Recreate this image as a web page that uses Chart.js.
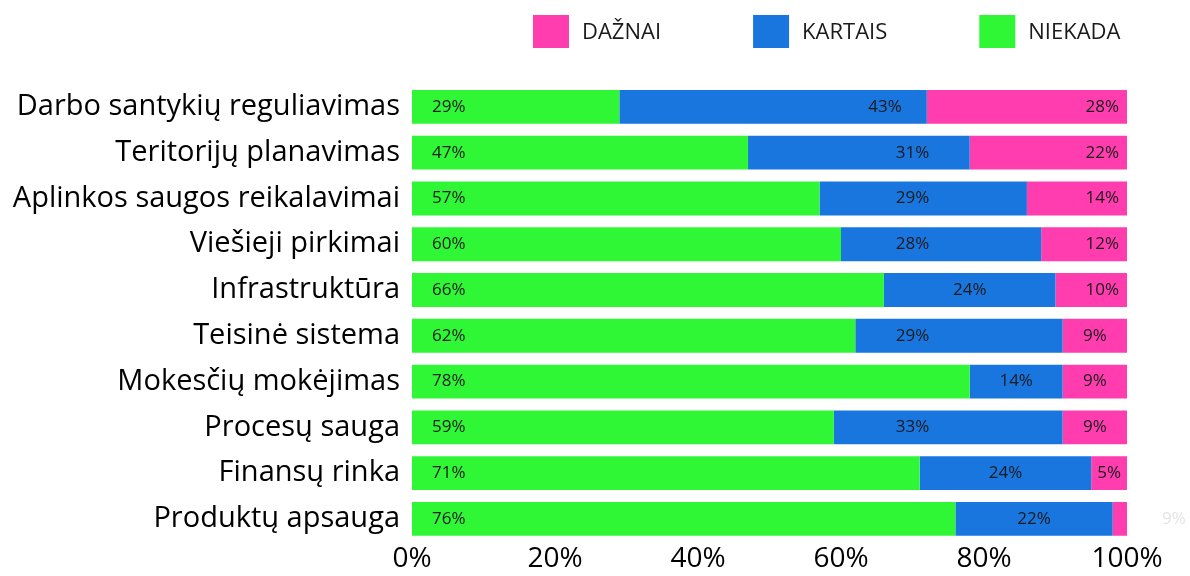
<!DOCTYPE html>
<html>
<head>
<meta charset="utf-8">
<script src="https://cdn.jsdelivr.net/npm/chart.js@4.4.1/dist/chart.umd.min.js"></script>
<style>
  html, body { margin: 0; padding: 0; background: #fff; }
  #wrap { width: 1190px; height: 576px; }
</style>
</head>
<body>
<div id="wrap"><canvas id="chart"></canvas></div>
<script>
const categories = [
    "Darbo santykių reguliavimas",
    "Teritorijų planavimas",
    "Aplinkos saugos reikalavimai",
    "Viešieji pirkimai",
    "Infrastruktūra",
    "Teisinė sistema",
    "Mokesčių mokėjimas",
    "Procesų sauga",
    "Finansų rinka",
    "Produktų apsauga",
];
// bar lengths as drawn
const niekada = [29, 47, 57, 60, 66, 62, 78, 59, 71, 76];
const kartais = [43, 31, 29, 28, 24, 29, 13, 32, 24, 22];
const daznai = [28, 22, 14, 12, 10, 9, 9, 9, 5, 2];
// numbers printed on the bars (the last pink one is a stray faded "9%")
const niekadaText = ["29%", "47%", "57%", "60%", "66%", "62%", "78%", "59%", "71%", "76%"];
const kartaisText = ["43%", "31%", "29%", "28%", "24%", "29%", "14%", "33%", "24%", "22%"];
const daznaiText = ["28%", "22%", "14%", "12%", "10%", "9%", "9%", "9%", "5%", "9%"];
const xTicks = [0, 20, 40, 60, 80, 100];

const FONT = "'Open Sans', sans-serif";
const INK = "#1a1a1a";

// draws the numbers inside the bars
const barLabels = {
    id: "barLabels",
    afterDatasetsDraw(chart) {
        const ctx = chart.ctx;
        ctx.save();
        ctx.font = "17px " + FONT;
        ctx.textBaseline = "middle";
        chart.data.datasets.forEach((ds, di) => {
            const meta = chart.getDatasetMeta(di);
            meta.data.forEach((bar, i) => {
                const start = Math.min(bar.base, bar.x);
                const end = Math.min(Math.max(bar.base, bar.x), chart.chartArea.right);
                const w = end - start;
                const text = ds.texts[i];
                const tw = ctx.measureText(text).width;
                ctx.fillStyle = INK;
                if (ds.key === "n") {
                    ctx.textAlign = "left";
                    ctx.fillText(text, start + 20, bar.y);
                } else if (ds.key === "k") {
                    const anchor = chart.scales.x.getPixelForValue(70);
                    let cx = (start + end) / 2;
                    if (anchor - tw / 2 > start + 20) cx = Math.min(anchor, end - 25 - tw / 2);
                    ctx.textAlign = "center";
                    ctx.fillText(text, cx, bar.y);
                } else {
                    if (w < tw + 6) {
                        ctx.fillStyle = "#e4e4e4";
                        ctx.textAlign = "left";
                        ctx.fillText(text, end + 35, bar.y);
                    } else if (w < 70) {
                        ctx.textAlign = "center";
                        ctx.fillText(text, (start + end) / 2, bar.y);
                    } else {
                        ctx.textAlign = "right";
                        ctx.fillText(text, end - 8, bar.y);
                    }
                }
            });
        });
        ctx.restore();
    },
};

// legend at the top, order DAŽNAI, KARTAIS, NIEKADA
const topLegend = {
    id: "topLegend",
    afterDraw(chart) {
        const ctx = chart.ctx;
        ctx.save();
        ctx.font = "22px " + FONT;
        ctx.textBaseline = "middle";
        ctx.textAlign = "left";
        let x = 533;
        const y = 15, boxW = 36, boxH = 33, gap = 13, spacing = 92;
        chart.data.datasets.slice().reverse().forEach((ds) => {
            ctx.fillStyle = ds.backgroundColor;
            ctx.fillRect(x, y, boxW, boxH);
            ctx.fillStyle = INK;
            ctx.fillText(ds.label, x + boxW + gap, y + boxH / 2 + 1);
            x += boxW + gap + ctx.measureText(ds.label).width + spacing;
        });
        ctx.restore();
    },
};

new Chart(document.getElementById("chart"), {
    type: "bar",
    data: {
        labels: categories,
        datasets: [
            { key: "n", label: "NIEKADA", data: niekada, texts: niekadaText, backgroundColor: "#2ff736" },
            { key: "k", label: "KARTAIS", data: kartais, texts: kartaisText, backgroundColor: "#1976df" },
            { key: "d", label: "DAŽNAI", data: daznai, texts: daznaiText, backgroundColor: "#ff3daf" },
        ],
    },
    options: {
        indexAxis: "y",
        responsive: true,
        maintainAspectRatio: false,
        animation: false,
        barPercentage: 0.74,
        categoryPercentage: 1,
        clip: 0,
        layout: { padding: { top: 84, right: 63, bottom: 0, left: 0 } },
        plugins: {
            legend: { display: false },
            tooltip: { enabled: false },
        },
        scales: {
            x: {
                stacked: true,
                min: 0,
                max: 100,
                afterBuildTicks: (axis) => {
                    axis.ticks = xTicks.map((v) => ({ value: v }));
                },
                grid: { display: false, drawTicks: false },
                border: { display: false },
                ticks: {
                    padding: 1,
                    color: "#000",
                    font: { family: FONT, size: 28, lineHeight: 1.15 },
                    callback: (v) => v + "%",
                },
            },
            y: {
                stacked: true,
                grid: { display: false, drawTicks: false },
                border: { display: false },
                afterFit: (axis) => { axis.width = 412; },
                ticks: {
                    padding: 12,
                    color: "#000",
                    font: { family: FONT, size: 29 },
                },
            },
        },
    },
    plugins: [barLabels, topLegend],
});
</script>
</body>
</html>
